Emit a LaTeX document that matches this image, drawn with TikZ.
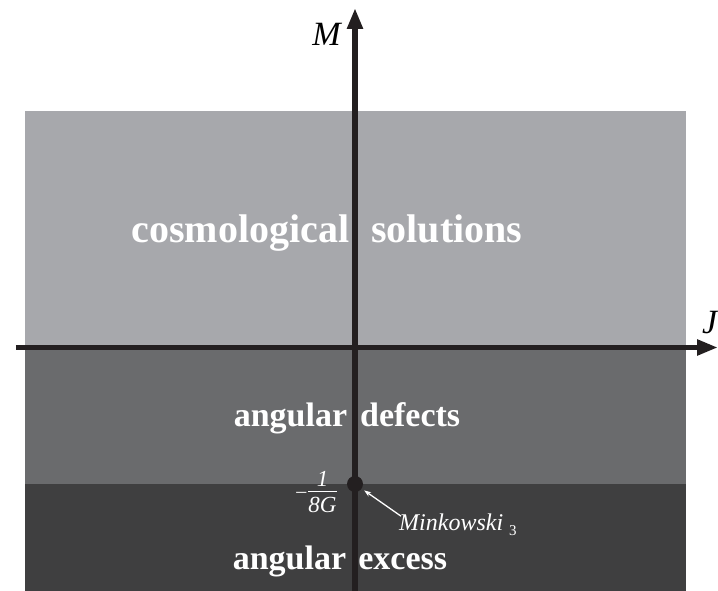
\documentclass[tikz,border=0pt]{standalone}
\usepackage{fontspec}
\setmainfont{Liberation Serif}
\usetikzlibrary{arrows.meta, positioning}
\definecolor{clight}{HTML}{A7A8AC}
\definecolor{cmid}{HTML}{6A6B6D}
\definecolor{cdark}{HTML}{3F3F40}
\definecolor{caxis}{HTML}{231F20}
\tikzset{
  every picture/.style={x=1bp, y=1bp},
  zone/.style={text=white, font=\fontsize{#1}{#1}\selectfont\bfseries, inner sep=0pt, anchor=base},
  axis/.style={draw=caxis, line width=5.5bp, -{Triangle[length=21bp, width=15bp]}},
  axlabel/.style={font=\fontsize{34bp}{36bp}\selectfont\itshape, inner sep=0pt},
  mark label/.style={text=white, font=\fontsize{#1}{#1}\selectfont\itshape, inner sep=1bp},
  pointer/.style={draw=white, line width=1.3bp, -{Stealth[length=7bp, width=5bp]}, shorten >=3bp},
}

\begin{document}
\begin{tikzpicture}
  \useasboundingbox (-355,-243.5) rectangle (363,347.5);
  % the three bands
  \fill[clight] (-330,0) rectangle (330.5,236.5);
  \fill[cmid] (-330,-136.5) rectangle (330.5,0);
  \fill[cdark] (-330,-243.5) rectangle (330.5,-136.5);
  \node[zone=40bp] (cosmo) at (-28,104.5) {cosmological\hspace{0.55em}solutions};
  \node[zone=34bp] (defect) at (-8,-79.5) {angular\hspace{0.38em}defects};
  \node[zone=34bp] (excess) at (-15,-221.5) {angular\hspace{0.36em}excess};
  % axes
  \coordinate (xmin) at (-339,0); \coordinate (xmax) at (363,0);
  \coordinate (ymin) at (0,-243.5); \coordinate (ymax) at (0,339.5);
  \draw[axis] (xmin) -- (xmax);
  \draw[axis] (ymin) -- (ymax);
  \node[axlabel, anchor=base east] (mlabel) at (-14,301.5) {M};
  \node[axlabel, anchor=base west] (jlabel) at (347,14) {J};
  % Minkowski point
  \node[mark label=23bp, anchor=east] (mkval) at (-16,-144.5) {\mbox{\fontsize{20bp}{20bp}\selectfont\textendash}\hspace{1bp}$\frac{\mbox{\itshape 1\rule[-4bp]{0pt}{4bp}}}{\mbox{\rule{0pt}{20bp}\itshape 8G}}$};
  \node[circle, fill=caxis, minimum size=16bp, inner sep=0pt] (mkdot) at (0,-136.5) {};
  \node[mark label=24bp, anchor=base west] (mklabel) at (43,-182.5) {Minkowski\hspace{6bp}\raisebox{-5bp}{\fontsize{15bp}{15bp}\selectfont\upshape 3}};
  \draw[pointer] ([shift={(3,-4)}]mklabel.north west) -- (mkdot);
\end{tikzpicture}
\end{document}
